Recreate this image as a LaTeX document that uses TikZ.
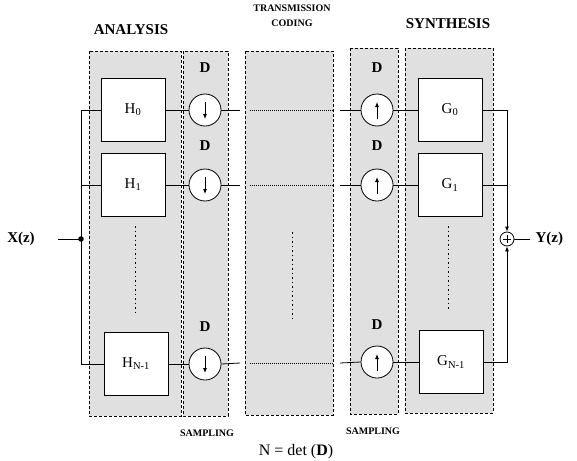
\documentclass[tikz,border=0pt]{standalone}
\usepackage{fontspec}
\setmainfont{Liberation Serif}
\usetikzlibrary{arrows.meta}
\begin{document}
\begin{tikzpicture}[x=1pt, y=-1pt, >={Latex[length=5pt,width=4pt]},
  band/.style={draw, dash pattern=on 3pt off 2pt, fill=black!12},
  filt/.style={draw, thick, fill=white, minimum width=64pt, minimum height=63pt,
    font=\fontsize{15}{17}\selectfont},
  samp/.style={draw, thick, circle, fill=white, minimum size=32pt, inner sep=0pt},
  dlab/.style={font=\fontsize{15}{17}\selectfont\bfseries},
  ttl/.style={font=\fontsize{15}{17}\selectfont\bfseries},
  sml/.style={font=\fontsize{10}{12}\selectfont\bfseries},
  dots/.style={thick, dash pattern=on 1.5pt off 3pt},
  ]
\useasboundingbox (0,0) rectangle (577,460);
% shaded bands
\draw[band] (89,51) rectangle (181,416);
\draw[band] (183,51) rectangle (228,416);
\draw[band] (245,51) rectangle (333,415);
\draw[band] (350,48) rectangle (398,414);
\draw[band] (405,48) rectangle (493,413);
% titles
\node[ttl] (tana) at (131,30) {ANALYSIS};
\node[sml, align=center] (ttra) at (292,16) {TRANSMISSION\\[3pt]CODING};
\node[ttl] (tsyn) at (448,24) {SYNTHESIS};
\node[sml] (tsa) at (207,433) {SAMPLING};
\node[sml] (tsb) at (373,431) {SAMPLING};
\node[font=\fontsize{16}{18}\selectfont] (tdet) at (296,452) {N = det (\textbf{D})};
% analysis filters
\node[filt] (h0) at (133,110) {H\textsubscript{0}};
\node[filt] (h1) at (133,185) {H\textsubscript{1}};
\node[filt] (hN) at (136,364) {H\textsubscript{N-1}};
% down-samplers
\node[samp] (d0) at (205,110) {};
\node[samp] (d1) at (205,185) {};
\node[samp] (dN) at (205,364) {};
\node[dlab] (dl0) at (205,68) {D};
\node[dlab] (dl1) at (205,146) {D};
\node[dlab] (dlN) at (205,327) {D};
% up-samplers
\node[samp] (u0) at (377,110) {};
\node[samp] (u1) at (377,185) {};
\node[samp] (uN) at (377,362) {};
\node[dlab] (ul0) at (377,68) {D};
\node[dlab] (ul1) at (377,146) {D};
\node[dlab] (ulN) at (377,325) {D};
% synthesis filters
\node[filt] (g0) at (450,110) {G\textsubscript{0}};
\node[filt] (g1) at (450,185) {G\textsubscript{1}};
\node[filt] (gN) at (451,362) {G\textsubscript{N-1}};
% arrows inside the samplers
\foreach \n in {d0,d1,dN}
  \draw[thick,->] ([yshift=8pt]\n.center) -- ([yshift=-9pt]\n.center);
\foreach \n in {u0,u1,uN}
  \draw[thick,->] ([yshift=-9pt]\n.center) -- ([yshift=8pt]\n.center);
% input
\node[font=\fontsize{15}{17}\selectfont\bfseries] (xz) at (21,239) {X(z)};
\coordinate (xin) at (58,239);
\coordinate (split) at (81,239);
\draw[thick] (xin) -- (split);
\fill (split) circle (2.8pt);
\draw[thick] (h0.west) -- (h0.west -| split) -- (hN.west -| split) -- (hN.west);
\draw[thick] (h1.west) -- (h1.west -| split);
% analysis to sampling
\foreach \a/\b in {h0/d0,h1/d1,hN/dN}
  \draw[thick] (\a) -- (\b);
% transmission
\foreach \d/\u/\y in {d0/u0/110,d1/u1/185,dN/uN/363} {
  \coordinate (ta\d) at (240,\y);
  \coordinate (tb\d) at (250,\y);
  \coordinate (tc\d) at (333,\y);
  \coordinate (td\d) at (340,\y);
  \draw[thick] (\d.east) -- (ta\d);
  \draw[thick, dash pattern=on 1pt off 1pt] (tb\d) -- (tc\d);
  \draw[thick] (td\d) -- (\u.west);
}
% sampling to synthesis
\foreach \a/\b in {u0/g0,u1/g1,uN/gN}
  \draw[thick] (\a) -- (\b);
% dotted continuations
\draw[dots] (135,226) -- (135,313);
\draw[dots] (292,232) -- (292,322);
\draw[dots] (448,226) -- (448,311);
% output
\node[draw, thick, circle, minimum size=14pt, inner sep=0pt] (add) at (507,239) {};
\draw[thick] ([xshift=-4pt]add.center) -- ([xshift=4pt]add.center);
\draw[thick] ([yshift=-4pt]add.center) -- ([yshift=4pt]add.center);
\draw[thick,->] (g0.east) -| (add.north);
\draw[thick] (g1.east) -- (g1.east -| add);
\draw[thick,->] (gN.east) -| (add.south);
\coordinate (yout) at (530,239);
\draw[thick] (add.east) -- (yout);
\node[font=\fontsize{15}{17}\selectfont\bfseries, anchor=west] (yz) at (532,239) {Y(z)};
\end{tikzpicture}
\end{document}
